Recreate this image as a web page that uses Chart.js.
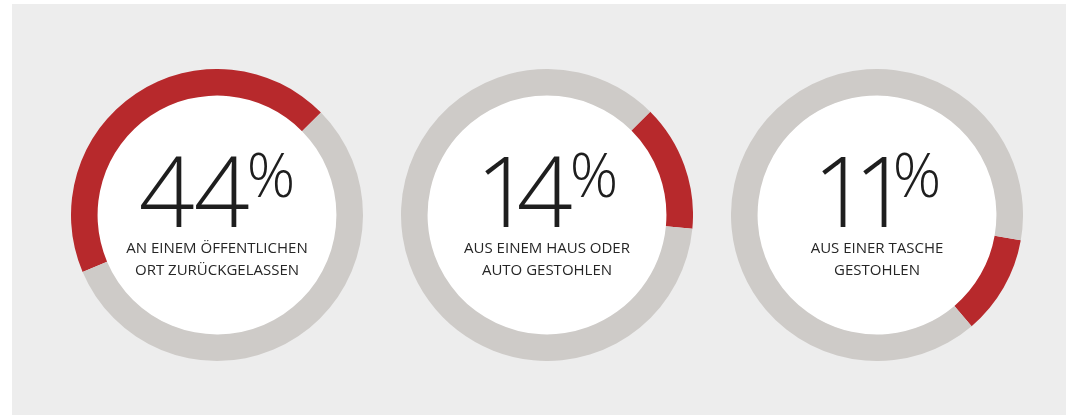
<!DOCTYPE html>
<html>
<head>
<meta charset="utf-8">
<script src="https://cdn.jsdelivr.net/npm/chart.js@4.4.0/dist/chart.umd.min.js"></script>
<style>
  html, body { margin: 0; padding: 0; background: #ffffff; }
  body { width: 1066px; height: 415px; position: relative; overflow: hidden; font-family: "Open Sans", sans-serif; }
  #panel { position: absolute; left: 12px; top: 4px; right: 0; bottom: 0; background: #ededed; }
  .hole { position: absolute; width: 240px; height: 240px; border-radius: 50%; background: #ffffff; }
  .ring { position: absolute; width: 292px; height: 292px; top: 69px; }
  .num { position: absolute; top: 140px; width: 300px; text-align: center; font-size: 98px; line-height: 98px; font-weight: 300; color: #1e1e1e; white-space: nowrap; letter-spacing: -1px; }
  .num .one { margin-right: -14px; }
  .num sup { font-size: 60px; vertical-align: baseline; position: relative; top: -30px; margin-left: -2px; letter-spacing: 0; }
  .caption { position: absolute; top: 237px; width: 300px; text-align: center; font-size: 15px; line-height: 21.5px; color: #262626; }
</style>
</head>
<body>
<div id="panel"></div>
<div id="donuts"></div>
<script>
const values = [44, 14, 11];
const captions = [
  ["AN EINEM ÖFFENTLICHEN", "ORT ZURÜCKGELASSEN"],
  ["AUS EINEM HAUS ODER", "AUTO GESTOHLEN"],
  ["AUS EINER TASCHE", "GESTOHLEN"],
];

// where each red arc starts (degrees clockwise from 12 o'clock)
const rotations = [247, 45, 100];
const centersX = [217, 547, 877];
const centerY = 215;

const RED = "#b7292c";
const GREY = "#cecbc8";

const root = document.getElementById("donuts");

values.forEach((v, i) => {
  const cx = centersX[i];

  const hole = document.createElement("div");
  hole.className = "hole";
  hole.style.left = cx - 120 + "px";
  hole.style.top = centerY - 120 + "px";
  root.appendChild(hole);

  const wrap = document.createElement("div");
  wrap.className = "ring";
  wrap.style.left = cx - 146 + "px";
  const canvas = document.createElement("canvas");
  wrap.appendChild(canvas);
  root.appendChild(wrap);

  // the reference face has a narrow "1", so tighten those digits
  const digits = String(v)
    .split("")
    .map((d) => (d === "1" ? `<span class="one">${d}</span>` : d))
    .join("");

  const num = document.createElement("div");
  num.className = "num";
  num.style.left = cx - 150 + "px";
  num.innerHTML = `${digits}<sup>%</sup>`;
  root.appendChild(num);

  const cap = document.createElement("div");
  cap.className = "caption";
  cap.style.left = cx - 150 + "px";
  cap.innerHTML = captions[i].join("<br>");
  root.appendChild(cap);

  new Chart(canvas.getContext("2d"), {
    type: "doughnut",
    data: {
      labels: ["Anteil", "Rest"],
      datasets: [
        {
          data: [v, 100 - v],
          backgroundColor: [RED, GREY],
          borderWidth: 0,
          hoverOffset: 0,
        },
      ],
    },
    options: {
      responsive: true,
      maintainAspectRatio: false,
      animation: false,
      cutout: "81.8%",
      rotation: rotations[i],
      layout: { padding: 0 },
      events: [],
      plugins: {
        legend: { display: false },
        tooltip: { enabled: false },
      },
    },
  });
});
</script>
</body>
</html>
